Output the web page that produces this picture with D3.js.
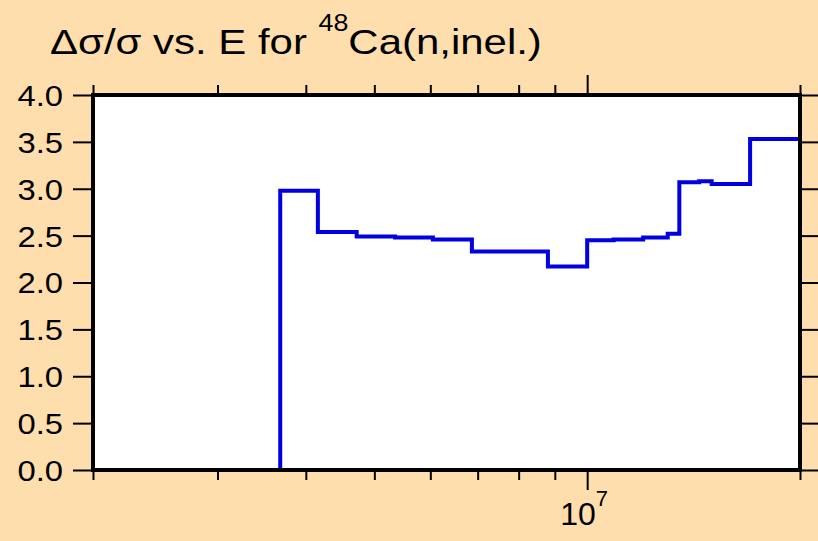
<!DOCTYPE html>
<html>
<head>
<meta charset="utf-8">
<script src="https://cdn.jsdelivr.net/npm/d3@7"></script>
<style>
  html, body { margin: 0; padding: 0; background: #ffdead; }
  svg { display: block; font-family: "Liberation Sans", Arial, sans-serif; }
</style>
</head>
<body>
<svg id="chart"></svg>
<script>
// bin edges (eV) and the relative uncertainty in each bin
var binEdges = [3.68e6, 4.16e6, 4.72e6, 5.35e6, 6.05e6, 6.87e6, 7.78e6, 8.8e6, 1.0e7,
                1.09e7, 1.2e7, 1.3e7, 1.35e7, 1.44e7, 1.5e7, 1.7e7, 2.0e7];
var binValues = [2.98, 2.54, 2.49, 2.48, 2.46, 2.33, 2.33, 2.17, 2.45,
                 2.46, 2.48, 2.52, 3.07, 3.08, 3.05, 3.53];
var xTicks = [2e6, 3e6, 4e6, 5e6, 6e6, 7e6, 8e6, 9e6, 1e7, 2e7];
var yTicks = [0, 0.5, 1, 1.5, 2, 2.5, 3, 3.5, 4];

var width = 818, height = 541;
var svg = d3.select("svg#chart").attr("width", width).attr("height", height);

var x = d3.scaleLog().domain([2e6, 2e7]).range([93, 800]),
    y = d3.scaleLinear().domain([0, 4]).range([470, 95]);

// stretch a text element horizontally about x0
function stretchX(sel, x0, sx) {
  sel.attr("transform", "translate(" + x0 + ",0) scale(" + sx + ",1) translate(" + (-x0) + ",0)");
}

svg.append("rect")
  .attr("width", width).attr("height", height)
  .attr("fill", "#ffdead");

svg.append("rect")
  .attr("x", x.range()[0]).attr("y", y.range()[1])
  .attr("width", x.range()[1] - x.range()[0])
  .attr("height", y.range()[0] - y.range()[1])
  .attr("fill", "#fff");

// step line
var pts = [[binEdges[0], 0]];
binValues.forEach(function(v, i) { pts.push([binEdges[i], v]); });
pts.push([binEdges[binEdges.length - 1], binValues[binValues.length - 1]]);
pts.push([binEdges[binEdges.length - 1], 0]);

var line = d3.line()
    .x(function(d) { return x(d[0]); })
    .y(function(d) { return y(d[1]); })
    .curve(d3.curveStepAfter);

svg.append("path")
  .datum(pts)
  .attr("d", line)
  .attr("fill", "none")
  .attr("stroke", "#0000e0")
  .attr("stroke-width", 4)
  .attr("stroke-linejoin", "miter");

// axes
function isMajor(d) { return d === 1e7; }

var axBottom = d3.axisBottom(x).tickValues(xTicks).tickFormat("").tickSizeOuter(0),
    axTop = d3.axisTop(x).tickValues(xTicks).tickFormat("").tickSizeOuter(0),
    axLeft = d3.axisLeft(y).tickValues(yTicks).tickFormat(d3.format(".1f")).tickSize(20).tickSizeOuter(0).tickPadding(10),
    axRight = d3.axisRight(y).tickValues(yTicks).tickFormat("").tickSize(20).tickSizeOuter(0);

var gb = svg.append("g").attr("transform", "translate(0," + y.range()[0] + ")").call(axBottom);
var gt = svg.append("g").attr("transform", "translate(0," + y.range()[1] + ")").call(axTop);
var gl = svg.append("g").attr("transform", "translate(" + x.range()[0] + ",0)").call(axLeft);
var gr = svg.append("g").attr("transform", "translate(" + x.range()[1] + ",0)").call(axRight);

gb.selectAll(".tick line").attr("y2", function(d) { return isMajor(d) ? 20 : 10; });
gt.selectAll(".tick line").attr("y2", function(d) { return isMajor(d) ? -20 : -10; });

[gb, gt, gl, gr].forEach(function(g) {
  g.select(".domain").remove();
  g.selectAll(".tick line").attr("stroke", "#000").attr("stroke-width", 2);
});

gl.selectAll(".tick text")
  .attr("fill", "#000")
  .attr("dy", "0.36em")
  .style("font-size", "29px")
  .style("font-family", "Liberation Sans, Arial, sans-serif")
  .each(function() { stretchX(d3.select(this), -30, 1.13); });

// label 10^7
var lab = svg.append("text")
  .attr("x", x(1e7) - 27).attr("y", 525)
  .style("font-size", "32px");
lab.append("tspan").text("10");
lab.append("tspan").attr("dy", -19).style("font-size", "22px").text("7");

// frame
svg.append("rect")
  .attr("x", x.range()[0]).attr("y", y.range()[1])
  .attr("width", x.range()[1] - x.range()[0])
  .attr("height", y.range()[0] - y.range()[1])
  .attr("fill", "none")
  .attr("stroke", "#000")
  .attr("stroke-width", 4);

// title
var title = svg.append("text")
  .attr("x", 50).attr("y", 54)
  .style("font-size", "36px");
title.append("tspan").text("\u0394\u03c3/\u03c3 vs. E for ");
title.append("tspan").attr("dy", -23).style("font-size", "23px").text("48");
title.append("tspan").attr("dy", 23).text("Ca(n,inel.)");
var tw = title.node().getBBox().width;
stretchX(title, 50, 492 / tw);
</script>
</body>
</html>
